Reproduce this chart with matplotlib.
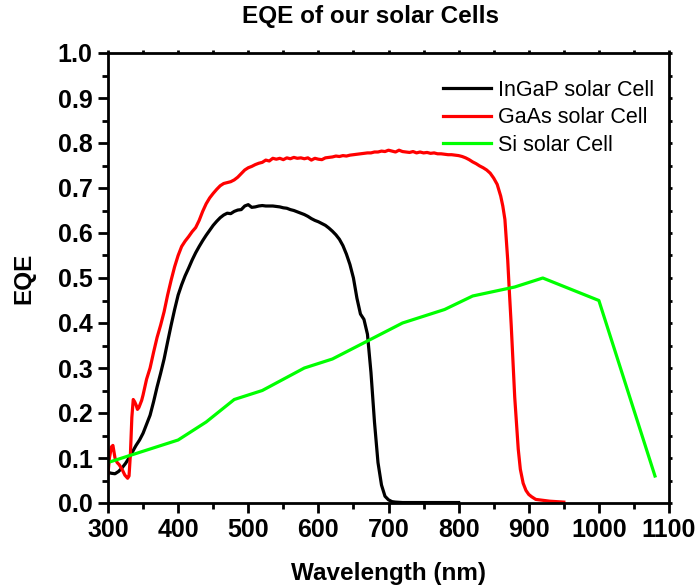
import matplotlib
matplotlib.use("Agg")
import matplotlib.pyplot as plt
from matplotlib.ticker import MultipleLocator, FormatStrFormatter

plt.rcParams['font.family'] = ['Liberation Sans', 'DejaVu Sans']

# InGaP top cell
ingap_wl = [300, 305, 310, 315, 320, 325, 330, 335, 340, 345, 350, 355, 360, 365, 370,
            375, 380, 385, 390, 395, 400, 405, 410, 415, 420, 425, 430, 435, 440, 445,
            450, 455, 460, 465, 470, 475, 480, 485, 490, 495, 500, 505, 510, 515, 520,
            525, 530, 535, 540, 545, 550, 555, 560, 565, 570, 575, 580, 585, 590, 595,
            600, 605, 610, 615, 620, 625, 630, 635, 640, 645, 650, 655, 660, 665, 670,
            675, 680, 685, 690, 695, 700, 705, 710, 720, 740, 760, 780, 800]
ingap_eqe = [0.068, 0.066, 0.065, 0.070, 0.078, 0.088, 0.100, 0.114, 0.128, 0.140, 0.155,
             0.175, 0.195, 0.225, 0.258, 0.288, 0.320, 0.358, 0.395, 0.430, 0.462, 0.485,
             0.505, 0.522, 0.540, 0.556, 0.570, 0.583, 0.595, 0.606, 0.617, 0.626, 0.634,
             0.640, 0.644, 0.643, 0.648, 0.651, 0.652, 0.660, 0.663, 0.657, 0.658, 0.660,
             0.661, 0.660, 0.660, 0.660, 0.659, 0.658, 0.656, 0.655, 0.652, 0.650, 0.647,
             0.644, 0.641, 0.637, 0.632, 0.628, 0.625, 0.621, 0.617, 0.611, 0.604, 0.596,
             0.586, 0.572, 0.553, 0.530, 0.500, 0.455, 0.420, 0.408, 0.375, 0.290, 0.180,
             0.090, 0.040, 0.015, 0.007, 0.003, 0.002, 0.001, 0.001, 0.001, 0.001, 0.001]

# GaAs middle cell
gaas_wl = [300, 302, 305, 307, 310, 313, 316, 320, 324, 328, 330, 332, 334, 336, 338,
           340, 342, 344, 346, 348, 350, 355, 360, 365, 370, 375, 380, 385, 390, 395,
           400, 405, 410, 415, 420, 425, 430, 435, 440, 445, 450, 455, 460, 465, 470,
           475, 480, 485, 490, 495, 500, 505, 510, 515, 520, 525, 530, 535, 540, 545,
           550, 555, 560, 565, 570, 575, 580, 585, 590, 595, 600, 605, 610, 615, 620,
           625, 630, 635, 640, 645, 650, 655, 660, 665, 670, 675, 680, 685, 690, 695,
           700, 705, 710, 715, 720, 725, 730, 735, 740, 745, 750, 755, 760, 765, 770,
           775, 780, 785, 790, 795, 800, 805, 810, 815, 820, 825, 830, 835, 840, 845,
           850, 855, 860, 863, 866, 868, 870, 872, 875, 878, 880, 883, 885, 888, 892,
           896, 900, 904, 910, 920, 930, 940, 950]
gaas_eqe = [0.065, 0.100, 0.125, 0.128, 0.100, 0.090, 0.085, 0.075, 0.062, 0.055, 0.060,
            0.110, 0.190, 0.230, 0.225, 0.218, 0.208, 0.212, 0.220, 0.228, 0.240, 0.275,
            0.300, 0.335, 0.368, 0.395, 0.425, 0.462, 0.495, 0.525, 0.550, 0.570, 0.582,
            0.592, 0.603, 0.612, 0.628, 0.648, 0.665, 0.678, 0.688, 0.697, 0.705, 0.710,
            0.712, 0.714, 0.718, 0.724, 0.732, 0.740, 0.745, 0.748, 0.752, 0.755, 0.757,
            0.762, 0.760, 0.766, 0.764, 0.766, 0.763, 0.767, 0.765, 0.768, 0.766, 0.767,
            0.765, 0.767, 0.762, 0.766, 0.764, 0.763, 0.767, 0.768, 0.769, 0.771, 0.770,
            0.772, 0.771, 0.773, 0.774, 0.775, 0.776, 0.777, 0.778, 0.778, 0.780, 0.780,
            0.782, 0.781, 0.784, 0.782, 0.780, 0.784, 0.781, 0.780, 0.779, 0.781, 0.778,
            0.780, 0.778, 0.779, 0.777, 0.778, 0.776, 0.776, 0.775, 0.774, 0.774, 0.773,
            0.772, 0.770, 0.767, 0.763, 0.758, 0.754, 0.749, 0.745, 0.740, 0.733, 0.722,
            0.708, 0.682, 0.660, 0.630, 0.585, 0.540, 0.480, 0.395, 0.300, 0.235, 0.165,
            0.120, 0.075, 0.044, 0.028, 0.019, 0.014, 0.008, 0.006, 0.004, 0.003, 0.002]

# Si bottom cell
si_wl = [300, 400, 440, 480, 520, 580, 620, 720, 780, 820, 880, 920, 1000, 1080]
si_eqe = [0.09, 0.14, 0.18, 0.23, 0.25, 0.30, 0.32, 0.40, 0.43, 0.46, 0.48, 0.50, 0.45, 0.06]

series_labels = ["InGaP solar Cell", "GaAs solar Cell", "Si solar Cell"]
x_ticks = [300, 400, 500, 600, 700, 800, 900, 1000, 1100]

fig = plt.figure(figsize=(6.98, 5.86), dpi=100)
ax = fig.add_axes([108 / 698, 83 / 586, 561 / 698, 450 / 586])

lw = 2.3
ax.plot(ingap_wl, ingap_eqe, color='black', lw=lw, label=series_labels[0])
ax.plot(gaas_wl, gaas_eqe, color='#ff0000', lw=lw, label=series_labels[1])
ax.plot(si_wl, si_eqe, color='#00ff00', lw=lw, label=series_labels[2])

ax.set_xlim(300, 1100)
ax.set_ylim(0, 1.0)
ax.set_xticks(x_ticks)
ax.xaxis.set_minor_locator(MultipleLocator(50))
ax.yaxis.set_major_locator(MultipleLocator(0.1))
ax.yaxis.set_minor_locator(MultipleLocator(0.05))
ax.yaxis.set_major_formatter(FormatStrFormatter('%.1f'))

for s in ax.spines.values():
    s.set_linewidth(2.0)

ax.tick_params(which='major', direction='out', length=7, width=2.0,
               labelsize=18, pad=4)
ax.tick_params(which='minor', direction='out', length=4, width=2.0)
ax.tick_params(which='both', top=True, right=True)
for t in ax.get_xticklabels() + ax.get_yticklabels():
    t.set_fontweight('bold')
# short marks on the top and right frame
for tick in ax.xaxis.get_major_ticks() + ax.xaxis.get_minor_ticks():
    tick.tick2line.set_markersize(2.5)
for tick in ax.yaxis.get_major_ticks() + ax.yaxis.get_minor_ticks():
    tick.tick2line.set_markersize(2.5)

ax.set_xlabel("Wavelength (nm)", fontsize=17.5, fontweight='bold', labelpad=14)
ax.set_ylabel("EQE", fontsize=17.5, fontweight='bold', labelpad=16)
fig.text(370 / 698, 1 - 17 / 586, "EQE of our solar Cells", fontsize=17.5,
         fontweight='bold', ha='center', va='center')

ax.legend(loc='upper left', bbox_to_anchor=(0.598, 0.94), frameon=False,
          fontsize=15.5, handlelength=2.2, handletextpad=0.35, labelspacing=0.3,
          borderpad=0, borderaxespad=0)

fig.savefig("out.png", dpi=100)
